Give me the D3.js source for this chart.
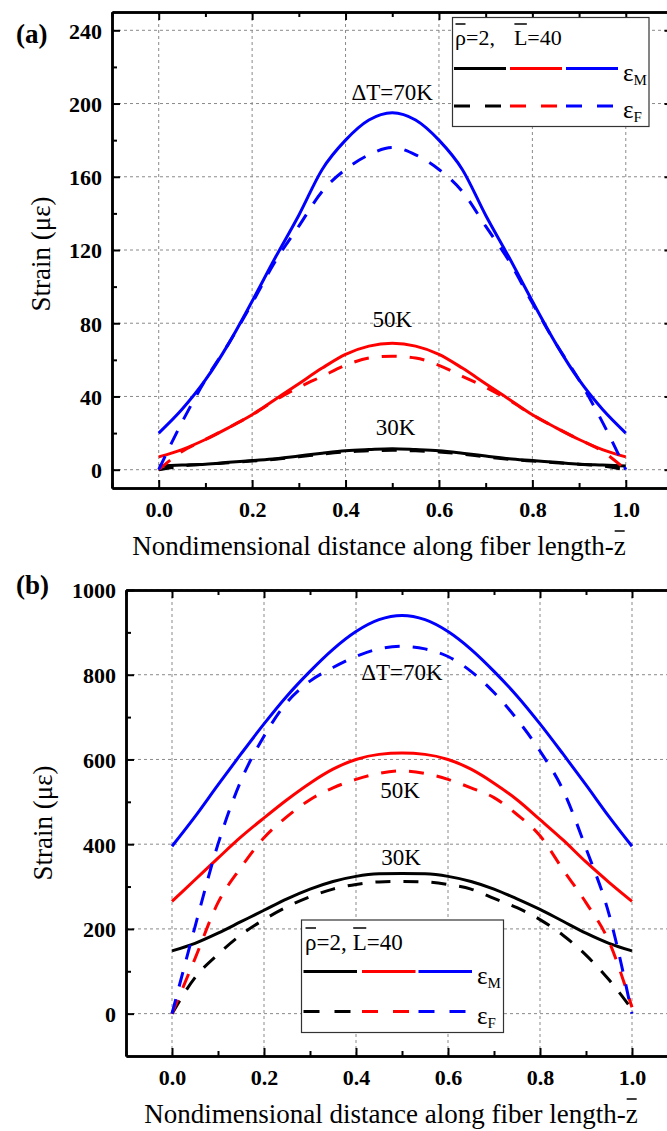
<!DOCTYPE html>
<html lang="en">
<head>
<meta charset="UTF-8">
<title>Strain along fiber length</title>
<script src="https://d3js.org/d3.v7.min.js"></script>
<style>
  body { margin: 0; background: #fff; }
  svg text { font-family: "Liberation Serif", "Times New Roman", serif; }
</style>
</head>
<body>
<svg id="chart" width="667" height="1131"></svg>
<script>
// nondimensional position along the fiber
const zPos = [0, 0.05, 0.1, 0.15, 0.2, 0.25, 0.3, 0.35, 0.4, 0.45, 0.5,
              0.55, 0.6, 0.65, 0.7, 0.75, 0.8, 0.85, 0.9, 0.95, 1];

// panel (a): strain in micro-strain, matrix (M) and fiber (F)
const aM30 = [2, 2.5, 3, 4, 5, 6, 7.5, 9, 10.3, 11, 11.5, 11, 10.3, 9, 7.5, 6, 5, 4, 3, 2.5, 2];
const aF30 = [0, 2, 3, 3.8, 4.7, 5.7, 7, 8.5, 9.7, 10.3, 10.6, 10.3, 9.7, 8.5, 7, 5.7, 4.7, 3.8, 3, 2, 0];
const aM50 = [7, 11, 16.5, 23, 30, 38.5, 47, 55.5, 63, 67.5, 69, 67.5, 63, 55.5, 47, 38.5, 30, 23, 16.5, 11, 7];
const aF50 = [0, 10, 16.5, 23, 30, 38, 45, 51, 57, 61, 62, 61, 57, 51, 45, 38, 30, 23, 16.5, 10, 0];
const aM70 = [20, 33, 49, 69, 92, 116, 139, 164, 180, 191, 195, 191, 180, 164, 139, 116, 92, 69, 49, 33, 20];
const aF70 = [0, 26, 49, 69, 91, 114, 133, 152, 164, 172, 176, 172, 164, 152, 133, 114, 91, 69, 49, 26, 0];

// panel (b)
const bM30 = [148, 166, 190, 217, 244, 271, 294, 312, 324, 330, 331, 330, 324, 312, 294, 271, 246, 218, 190, 166, 148];
const bF30 = [0, 85, 140, 186, 222, 252, 276, 294, 305, 311, 312, 311, 305, 294, 272, 250, 222, 185, 138, 80, 10];
const bM50 = [265, 316, 367, 417, 462, 505, 544, 577, 600, 612, 615, 612, 600, 577, 544, 505, 458, 410, 358, 310, 265];
const bF50 = [0, 130, 262, 345, 415, 465, 505, 533, 553, 567, 573, 567, 553, 533, 510, 470, 420, 340, 262, 170, 15];
const bM70 = [395, 465, 540, 613, 684, 750, 808, 860, 902, 930, 940, 930, 902, 860, 808, 750, 684, 613, 540, 465, 395];
const bF70 = [0, 205, 400, 550, 655, 735, 785, 817, 843, 861, 867, 861, 843, 808, 758, 695, 620, 528, 390, 235, 0];

const seriesColors = ["#000000", "#ff0000", "#0000ff"];

const xTicks = [0, 0.2, 0.4, 0.6, 0.8, 1.0];
const xMinor = [-0.1, 0.1, 0.3, 0.5, 0.7, 0.9, 1.1];
const aYTicks = [0, 40, 80, 120, 160, 200, 240];
const aYMinor = [20, 60, 100, 140, 180, 220];
const bYTicks = [0, 200, 400, 600, 800, 1000];
const bYMinor = [100, 300, 500, 700, 900];

// where the temperature labels sit, in data units
const aNotes = [
  { text: "\u0394T=70K", z: 0.5, v: 202 },
  { text: "50K", z: 0.5, v: 78 },
  { text: "30K", z: 0.507, v: 19 }
];
const bNotes = [
  { text: "\u0394T=70K", z: 0.5, v: 787 },
  { text: "50K", z: 0.496, v: 510 },
  { text: "30K", z: 0.498, v: 351 }
];

const svg = d3.select("#chart");

const panels = [
  {
    id: "a", tag: "(a)", tagY: 43,
    left: 112, right: 672.5, top: 12, bottom: 488,
    yDomain: [-10, 250], yTicks: aYTicks, yMinor: aYMinor,
    series: [[aM30, aF30], [aM50, aF50], [aM70, aF70]],
    notes: aNotes, titleX: 379, titleY: 555, yTitleX: 50, yTitleY: 254,
    legend: { x0: 452.5, y0: 17.5, x1: 649, y1: 126.5, titleX: 455, titleY: 45,
              head: "\u03c1=2,", tail: "L=40", gap: 19,
              fs: 22, segX: [454, 510, 566], segW: 52, rowM: 68.5, rowF: 106, labX: 623 }
  },
  {
    id: "b", tag: "(b)", tagY: 594,
    left: 126, right: 678, top: 590, bottom: 1056,
    yDomain: [-100, 1000], yTicks: bYTicks, yMinor: bYMinor,
    series: [[bM30, bF30], [bM50, bF50], [bM70, bF70]],
    notes: bNotes, titleX: 391, titleY: 1123, yTitleX: 52, yTitleY: 823,
    legend: { x0: 301.5, y0: 920, x1: 503.5, y1: 1032.5, titleX: 305, titleY: 950,
              head: "\u03c1=2,", tail: "L=40", gap: 6,
              fs: 23, segX: [303.5, 362, 418.5], segW: 53.5, rowM: 971.5, rowF: 1011.5, labX: 477 }
  }
];

function styleAxis(g) {
  g.selectAll("path.domain").attr("stroke", "#000").attr("stroke-width", 2.5);
  g.selectAll(".tick line").attr("stroke", "#000").attr("stroke-width", 2);
  g.selectAll(".tick text")
    .attr("font-family", "Liberation Serif")
    .attr("font-size", 22).attr("font-weight", "bold").attr("fill", "#000");
}

function drawPanel(p) {
  const x = d3.scaleLinear().domain([-0.1, 1.1]).range([p.left, p.right]);
  const y = d3.scaleLinear().domain(p.yDomain).range([p.bottom, p.top]);
  const g = svg.append("g").attr("class", "panel-" + p.id);

  g.append("clipPath").attr("id", "clip-" + p.id)
    .append("rect").attr("x", p.left).attr("y", p.top)
    .attr("width", p.right - p.left).attr("height", p.bottom - p.top);

  // dashed grid at major ticks
  const grid = g.append("g").attr("stroke", "#8a8a8a").attr("stroke-width", 1).attr("stroke-dasharray", "3,3");
  grid.selectAll("line.gx").data(xTicks).join("line").attr("class", "gx")
    .attr("x1", d => x(d)).attr("x2", d => x(d)).attr("y1", p.top).attr("y2", p.bottom);
  grid.selectAll("line.gy").data(p.yTicks).join("line").attr("class", "gy")
    .attr("x1", p.left).attr("x2", p.right).attr("y1", d => y(d)).attr("y2", d => y(d));

  // curves
  const line = d3.line().x((d, i) => x(zPos[i])).y(d => y(d)).curve(d3.curveMonotoneX);
  const curves = g.append("g").attr("clip-path", `url(#clip-${p.id})`).attr("fill", "none");
  p.series.forEach((pair, k) => {
    curves.append("path").attr("d", line(pair[1]))
      .attr("stroke", seriesColors[k]).attr("stroke-width", 3).attr("stroke-dasharray", "15,13");
    curves.append("path").attr("d", line(pair[0]))
      .attr("stroke", seriesColors[k]).attr("stroke-width", 3);
  });

  // axes with inward ticks
  const fmt = d3.format(".1f");
  g.append("g").attr("transform", `translate(0,${p.bottom})`)
    .call(d3.axisBottom(x).tickValues(xTicks).tickSizeInner(-8).tickSizeOuter(0).tickPadding(13).tickFormat(fmt))
    .call(styleAxis);
  g.append("g").attr("transform", `translate(0,${p.bottom})`)
    .call(d3.axisBottom(x).tickValues(xMinor).tickSizeInner(-5).tickSizeOuter(0).tickFormat(""))
    .call(styleAxis);
  g.append("g").attr("transform", `translate(0,${p.top})`)
    .call(d3.axisTop(x).tickValues(xTicks).tickSizeInner(-8).tickSizeOuter(0).tickFormat(""))
    .call(styleAxis);
  g.append("g").attr("transform", `translate(0,${p.top})`)
    .call(d3.axisTop(x).tickValues(xMinor).tickSizeInner(-5).tickSizeOuter(0).tickFormat(""))
    .call(styleAxis);
  g.append("g").attr("transform", `translate(${p.left},0)`)
    .call(d3.axisLeft(y).tickValues(p.yTicks).tickSizeInner(-8).tickSizeOuter(0).tickPadding(10).tickFormat(d3.format("d")))
    .call(styleAxis)
    .call(a => a.selectAll(".tick text").attr("dy", "0.36em"));
  g.append("g").attr("transform", `translate(${p.left},0)`)
    .call(d3.axisLeft(y).tickValues(p.yMinor).tickSizeInner(-5).tickSizeOuter(0).tickFormat(""))
    .call(styleAxis);
  g.append("g").attr("transform", `translate(${p.right},0)`)
    .call(d3.axisRight(y).tickValues(p.yTicks).tickSizeInner(-8).tickSizeOuter(0).tickFormat(""))
    .call(styleAxis);

  // temperature labels
  g.selectAll("text.note").data(p.notes).join("text").attr("class", "note")
    .attr("x", d => x(d.z)).attr("y", d => y(d.v))
    .attr("text-anchor", "middle").attr("font-size", 23).text(d => d.text);

  // panel tag
  g.append("text").attr("x", 16).attr("y", p.tagY)
    .attr("font-size", 27).attr("font-weight", "bold").text(p.tag);

  // axis titles
  const xt = g.append("text").attr("x", p.titleX).attr("y", p.titleY)
    .attr("text-anchor", "middle").attr("font-size", 27)
    .text("Nondimensional distance along fiber length-z");
  const xtNode = xt.node();
  const zBox = xtNode.getExtentOfChar(xtNode.getNumberOfChars() - 1);
  g.append("line").attr("x1", zBox.x + 1).attr("x2", zBox.x + zBox.width - 1)
    .attr("y1", p.titleY - 24).attr("y2", p.titleY - 24)
    .attr("stroke", "#000").attr("stroke-width", 1.5);

  g.append("text")
    .attr("transform", `translate(${p.yTitleX},${p.yTitleY}) rotate(-90)`)
    .attr("text-anchor", "middle").attr("font-size", 27)
    .text("Strain (\u03bc\u03b5)");

  drawLegend(g, p.legend);
}

function drawLegend(g, L) {
  const lg = g.append("g");
  lg.append("rect").attr("x", L.x0).attr("y", L.y0)
    .attr("width", L.x1 - L.x0).attr("height", L.y1 - L.y0)
    .attr("fill", "#fff").attr("stroke", "#333").attr("stroke-width", 1.2);

  const t = lg.append("text").attr("x", L.titleX).attr("y", L.titleY).attr("font-size", L.fs);
  t.append("tspan").text(L.head);
  t.append("tspan").attr("dx", L.gap).text(L.tail);
  const node = t.node();
  // overbars on rho and L
  [0, L.head.length].forEach(i => {
    const b = node.getExtentOfChar(i);
    lg.append("line").attr("x1", b.x + 0.5).attr("x2", b.x + b.width - 0.5)
      .attr("y1", L.titleY - L.fs + 1).attr("y2", L.titleY - L.fs + 1)
      .attr("stroke", "#000").attr("stroke-width", 1.5);
  });

  seriesColors.forEach((c, k) => {
    lg.append("line").attr("x1", L.segX[k]).attr("x2", L.segX[k] + L.segW)
      .attr("y1", L.rowM).attr("y2", L.rowM).attr("stroke", c).attr("stroke-width", 3);
    lg.append("line").attr("x1", L.segX[k]).attr("x2", L.segX[k] + L.segW)
      .attr("y1", L.rowF).attr("y2", L.rowF).attr("stroke", c).attr("stroke-width", 3)
      .attr("stroke-dasharray", "16,15");
  });

  [["M", L.rowM], ["F", L.rowF]].forEach(([sub, row]) => {
    const e = lg.append("text").attr("x", L.labX).attr("y", row + 12).attr("font-size", 25);
    e.append("tspan").text("\u03b5");
    e.append("tspan").attr("dy", 4).attr("font-size", 15).text(sub);
  });
}

panels.forEach(drawPanel);
</script>
</body>
</html>
